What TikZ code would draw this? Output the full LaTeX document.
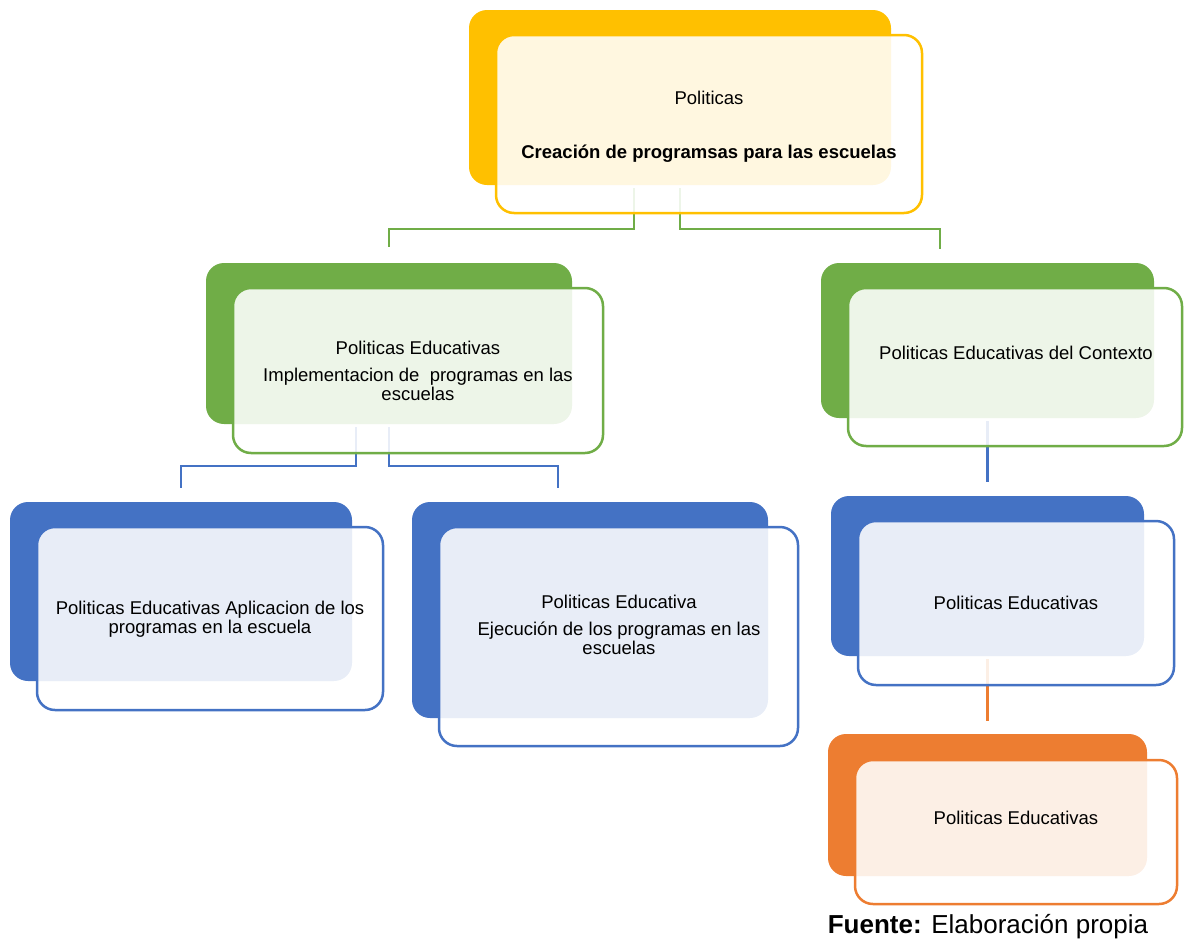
\documentclass[tikz,border=0pt]{standalone}
\usepackage{fontspec}
\setmainfont{Liberation Sans}
\usetikzlibrary{calc}
\definecolor{cYel}{HTML}{FFC000}
\definecolor{cGrn}{HTML}{70AD47}
\definecolor{cBlu}{HTML}{4472C4}
\definecolor{cOrg}{HTML}{ED7D31}
\begin{document}
\begin{tikzpicture}[x=1pt,y=-1pt,
  backbox/.style={rectangle, rounded corners=18pt, draw=none, inner sep=0pt, outer sep=0pt},
  frontbox/.style={rectangle, rounded corners=18pt, fill=white, fill opacity=0.88, line width=2.5pt, inner sep=0pt, outer sep=0pt},
  txt/.style={align=center, inner sep=0pt, anchor=base, font=\fontsize{18.5}{19}\selectfont},
  conn/.style={line width=2.5pt}]
\useasboundingbox (0,0) rectangle (1184,940);
% back boxes
\node[backbox, fill=cYel, minimum width=422pt, minimum height=175pt] (tb) at (680,97.5) {};
\node[backbox, fill=cGrn, minimum width=366pt, minimum height=161pt] (glb) at (389,343.5) {};
\node[backbox, fill=cGrn, minimum width=333pt, minimum height=155pt] (grb) at (987.5,340.5) {};
\node[backbox, fill=cBlu, minimum width=342pt, minimum height=179pt] (blb) at (181,591.5) {};
\node[backbox, fill=cBlu, minimum width=356pt, minimum height=216pt] (bmb) at (590,610) {};
\node[backbox, fill=cBlu, minimum width=313pt, minimum height=160pt] (brb) at (987.5,576) {};
\node[backbox, fill=cOrg, minimum width=319pt, minimum height=142pt] (orb) at (987.5,805) {};
% connectors
\draw[conn, cGrn] ($(tb.south west)+(165,3)$) -- ++(0,41) -| ($(glb.north west)+(183,-16)$);
\draw[conn, cGrn] ($(tb.south)+(0,3)$) -- ++(0,41) -| ($(grb.north west)+(119,-14)$);
\draw[conn, cBlu] ($(glb.south west)+(150,3)$) -- ++(0,39) -| ($(blb.north)+(0,-14)$);
\draw[conn, cBlu] ($(glb.south)+(0,3)$) -- ++(0,39) -| ($(bmb.north west)+(146,-14)$);
\draw[conn, cBlu] ($(grb.south)+(0,3)$) -- ($(brb.north)+(0,-14)$);
\draw[conn, cOrg] ($(brb.south)+(0,3)$) -- ($(orb.north)+(0,-13)$);
% front boxes
\node[frontbox, draw=cYel, minimum width=426pt, minimum height=178pt] (tf) at (709,124) {};
\node[frontbox, draw=cGrn, minimum width=370pt, minimum height=165pt] (glf) at (418,370.5) {};
\node[frontbox, draw=cGrn, minimum width=334pt, minimum height=158pt] (grf) at (1015,367) {};
\node[frontbox, draw=cBlu, minimum width=346pt, minimum height=183pt] (blf) at (210,618.5) {};
\node[frontbox, draw=cBlu, minimum width=359pt, minimum height=219pt] (bmf) at (618.5,636.5) {};
\node[frontbox, draw=cBlu, minimum width=316pt, minimum height=164pt] (brf) at (1016,603) {};
\node[frontbox, draw=cOrg, minimum width=322pt, minimum height=144pt] (orf) at (1016,832) {};
% texts (base = baseline of last line)
\node[txt] (tt) at (709,158.5) {Politicas\\[35pt]\textbf{Creación de programsas para las escuelas}};
\node[txt] (glt) at (418,400.5) {Politicas Educativas\\[8pt]Implementacion de~ programas en las\\escuelas};
\node[txt] (grt) at (1016,359.5) {Politicas Educativas del Contexto};
\node[txt] (blt) at (210,633.5) {Politicas Educativas Aplicacion de los\\programas en la escuela};
\node[txt] (bmt) at (619,654.5) {Politicas Educativa\\[8pt]Ejecución de los programas en las\\escuelas};
\node[txt] (brt) at (1016,609.5) {Politicas Educativas};
\node[txt] (ort) at (1016,824.5) {Politicas Educativas};
\node[anchor=base, inner sep=0pt, font=\fontsize{26}{28}\selectfont] (src) at (988,933) {\textbf{Fuente:} Elaboración propia};
\end{tikzpicture}
\end{document}
